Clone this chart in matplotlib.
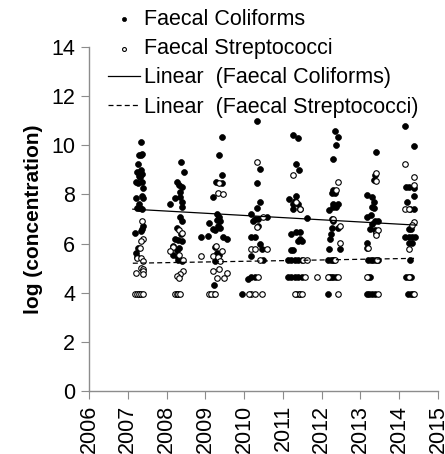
import matplotlib
matplotlib.use("Agg")
import matplotlib.pyplot as plt
import numpy as np

# Faecal coliforms, log concentration by sampling date
fc_dates = [
    2007.34, 2007.28, 2007.34, 2007.37, 2007.26, 2007.24, 2007.33, 2007.36, 2007.29, 2007.31,
    2007.22, 2007.26, 2007.37, 2007.40, 2007.36, 2007.21, 2007.40, 2007.30, 2007.24, 2007.28,
    2007.32, 2007.36, 2007.40, 2007.36, 2007.33, 2007.18, 2007.27, 2007.21, 2007.25, 2007.30,
    2008.37, 2008.45, 2008.26, 2008.32, 2008.39, 2008.35, 2008.09, 2008.22, 2008.35, 2008.39,
    2008.41, 2008.35, 2008.39, 2008.26, 2008.37, 2008.22, 2008.30, 2008.39, 2008.17, 2008.26,
    2008.32, 2008.17, 2008.26, 2008.39, 2008.30, 2008.26,
    2009.44, 2009.35, 2009.44, 2009.27, 2009.42, 2009.19, 2009.31, 2009.36, 2009.37, 2009.29,
    2009.33, 2009.39, 2009.20, 2009.24, 2009.10, 2009.55, 2008.90, 2009.08, 2009.24, 2009.29,
    2009.36, 2009.24, 2009.22, 2009.22, 2009.46,
    2010.32, 2010.41, 2010.32, 2010.41, 2010.32, 2010.19, 2010.28, 2010.36, 2010.58, 2010.23,
    2010.36, 2010.19, 2010.28, 2010.41, 2010.45, 2010.19, 2010.49, 2010.19, 2010.28, 2010.10,
    2009.94,
    2011.27, 2011.39, 2011.35, 2011.41, 2011.16, 2011.31, 2011.35, 2011.27, 2011.39, 2011.44,
    2011.61, 2011.27, 2011.35, 2011.44, 2011.22, 2011.44, 2011.39, 2011.48, 2011.22, 2011.27,
    2011.14, 2011.22, 2011.31, 2011.39, 2011.48, 2011.14, 2011.22, 2011.31, 2011.39, 2011.48,
    2011.35, 2011.41,
    2012.34, 2012.43, 2012.37, 2012.30, 2012.30, 2012.26, 2012.34, 2012.30, 2012.41, 2012.28,
    2012.37, 2012.20, 2012.26, 2012.30, 2012.26, 2012.43, 2012.23, 2012.21, 2012.20, 2012.46,
    2012.17, 2012.23, 2012.28, 2012.32, 2012.19, 2012.25, 2012.30, 2012.36, 2012.17,
    2013.40, 2013.37, 2013.35, 2013.16, 2013.30, 2013.35, 2013.29, 2013.35, 2013.27, 2013.16,
    2013.37, 2013.30, 2013.46, 2013.24, 2013.37, 2013.18, 2013.16, 2013.20, 2013.27, 2013.33,
    2013.39, 2013.44, 2013.20, 2013.24, 2013.16, 2013.22, 2013.30, 2013.37,
    2014.14, 2014.39, 2014.37, 2014.18, 2014.24, 2014.37, 2014.20, 2014.28, 2014.37, 2014.30,
    2014.26, 2014.16, 2014.24, 2014.33, 2014.40, 2014.26, 2014.32, 2014.28, 2014.18, 2014.24,
    2014.31, 2014.22, 2014.30, 2014.36,
]
fc_vals = [
    10.15, 9.60, 9.60, 9.65, 9.25, 8.90, 9.00, 8.85, 8.75, 8.70,
    8.50, 8.45, 8.50, 8.25, 7.95, 7.85, 7.85, 7.60, 7.45, 7.45,
    7.45, 7.40, 6.70, 6.60, 6.50, 6.42, 5.80, 5.60, 5.45, 3.95,
    9.32, 8.90, 8.50, 8.40, 8.30, 8.10, 7.60, 7.85, 7.90, 7.70,
    7.50, 7.10, 6.90, 6.65, 6.40, 6.20, 6.15, 6.10, 5.90, 5.75,
    5.80, 5.55, 5.50, 5.30, 5.35, 3.95,
    10.34, 9.60, 8.78, 8.50, 8.45, 7.90, 7.22, 7.10, 6.90, 6.95,
    6.70, 6.65, 6.60, 6.55, 6.85, 6.20, 6.27, 6.30, 5.85, 5.60,
    5.55, 5.30, 4.30, 3.95, 6.25,
    11.00, 9.05, 8.45, 7.70, 7.45, 7.20, 7.00, 7.00, 7.08, 6.90,
    6.70, 6.27, 6.27, 6.00, 5.77, 5.50, 5.34, 4.65, 4.65, 4.55,
    3.95,
    10.40, 10.30, 9.23, 8.98, 7.80, 7.75, 7.95, 7.60, 7.60, 7.40,
    7.05, 7.40, 6.48, 6.48, 6.40, 6.20, 6.10, 6.10, 5.73, 5.73,
    5.34, 5.34, 5.34, 5.34, 5.34, 4.64, 4.64, 4.64, 4.64, 4.64,
    3.95, 3.95,
    10.60, 10.35, 10.00, 9.43, 8.20, 8.05, 8.05, 7.60, 7.60, 7.50,
    7.50, 7.35, 7.00, 6.90, 6.65, 6.65, 6.40, 6.20, 5.77, 5.77,
    5.34, 5.34, 5.34, 5.34, 4.64, 4.64, 4.64, 4.64, 3.95,
    9.73, 8.78, 8.60, 7.97, 7.90, 7.70, 7.50, 7.45, 7.15, 7.10,
    6.90, 6.80, 6.90, 6.60, 6.55, 6.03, 5.80, 5.34, 5.34, 5.34,
    5.34, 5.34, 4.64, 4.64, 3.95, 3.95, 3.95, 3.95,
    10.77, 9.97, 8.25, 8.30, 8.30, 7.95, 7.70, 7.40, 7.40, 6.60,
    6.60, 6.27, 6.27, 6.27, 6.27, 6.03, 6.03, 5.34, 4.64, 4.64,
    4.64, 3.95, 3.95, 3.95,
]

# Faecal streptococci
fs_dates = [
    2007.36, 2007.40, 2007.34, 2007.31, 2007.25, 2007.34, 2007.40, 2007.33, 2007.38, 2007.21,
    2007.40, 2007.40, 2007.18, 2007.23, 2007.28, 2007.33, 2007.38,
    2008.32, 2008.41, 2008.17, 2008.09, 2008.43, 2008.32, 2008.43, 2008.35, 2008.28, 2008.32,
    2008.22, 2008.26, 2008.30, 2008.35,
    2009.36, 2009.33, 2009.46, 2008.90, 2009.27, 2009.42, 2009.20, 2009.33, 2009.39, 2009.19,
    2009.36, 2009.55, 2009.29, 2009.48, 2009.10, 2009.15, 2009.24,
    2010.32, 2010.49, 2010.32, 2010.19, 2010.28, 2010.58, 2010.41, 2010.36, 2010.19, 2010.28,
    2010.45, 2010.12,
    2011.25, 2011.35, 2011.44, 2011.52, 2011.61, 2011.57, 2011.87, 2011.31, 2011.44, 2011.50,
    2012.43, 2012.37, 2012.30, 2012.46, 2012.48, 2012.34, 2012.17, 2012.43, 2012.41,
    2013.41, 2013.39, 2013.41, 2013.44, 2013.39, 2013.20, 2013.16, 2013.46, 2013.42,
    2014.16, 2014.39, 2014.37, 2014.16, 2014.24, 2014.39, 2014.33, 2014.26, 2014.39, 2014.24,
]
fs_vals = [
    6.90, 6.20, 6.10, 5.80, 5.40, 5.40, 5.30, 5.00, 4.95, 4.80,
    4.90, 4.75, 3.95, 3.95, 3.95, 3.95, 3.95,
    6.55, 6.45, 5.85, 5.70, 5.35, 5.55, 4.90, 4.75, 4.70, 4.60,
    3.95, 3.95, 3.95, 3.95,
    8.45, 8.05, 8.00, 5.50, 5.90, 5.70, 5.50, 5.45, 5.30, 4.90,
    4.95, 4.80, 4.60, 4.60, 3.95, 3.95, 3.95,
    9.30, 7.10, 6.68, 5.77, 5.77, 5.77, 5.34, 4.65, 3.95, 3.95,
    3.95, 3.95,
    8.80, 7.70, 7.40, 5.34, 5.34, 4.64, 4.64, 3.95, 3.95, 3.95,
    8.50, 8.20, 7.00, 6.70, 6.03, 5.34, 4.64, 4.64, 3.95,
    8.87, 8.55, 6.45, 6.55, 6.35, 5.80, 4.64, 3.95, 5.34,
    9.23, 8.70, 8.40, 7.40, 7.40, 6.87, 6.75, 5.77, 3.95, 4.64,
]

# linear trend lines (end points)
trend_dates = [2007.13, 2014.45]
fc_trend = [7.40, 6.75]
fs_trend = [5.20, 5.40]

years = list(range(2006, 2016))

plt.rcParams['font.family'] = ['Liberation Sans', 'DejaVu Sans']

fig = plt.figure(figsize=(4.45, 4.54), dpi=100)
ax = fig.add_axes([89 / 445, 1 - 391 / 454, 349 / 445, 344 / 454])

ax.scatter(fc_dates, fc_vals, s=18, c='black', edgecolors='black', linewidths=0.5,
           label='Faecal Coliforms', zorder=3)
ax.scatter(fs_dates, fs_vals, s=16, c='white', edgecolors='black', linewidths=0.8,
           label='Faecal Streptococci', zorder=4)
ax.plot(trend_dates, fc_trend, color='black', lw=0.9, label='Linear  (Faecal Coliforms)', zorder=5)
ax.plot(trend_dates, fs_trend, color='black', lw=0.9, ls=(0, (4, 2.5)),
        label='Linear  (Faecal Streptococci)', zorder=5)

ax.set_xlim(2006, 2015)
ax.set_ylim(0, 14)
ax.set_xticks(years)
ax.set_xticklabels([str(y) for y in years], rotation=90, fontsize=15.5)
ax.set_yticks(range(0, 15, 2))
ax.tick_params(axis='y', labelsize=15.5, length=6, color='#8c8c8c', pad=4)
ax.tick_params(axis='x', length=6, color='#8c8c8c', pad=4)
for side in ['top', 'right']:
    ax.spines[side].set_visible(False)
for side in ['left', 'bottom']:
    ax.spines[side].set_color('#8c8c8c')
    ax.spines[side].set_linewidth(1.0)

ax.set_ylabel('log (concentration)', fontsize=15, fontweight='bold', labelpad=6)

# title sits mostly above the top edge, only its descenders show
fig.text(12 / 445, 1 + 6 / 454, '(a) Seasonality across the study', fontsize=16,
         fontweight='bold', va='baseline', ha='left')

fig.legend(loc='upper left', bbox_to_anchor=(108 / 445, 1 - 9 / 454), frameon=False,
           fontsize=15.5, handlelength=1.5, handletextpad=0.15, labelspacing=0.38,
           borderpad=0, borderaxespad=0, scatterpoints=1, markerscale=0.7)

fig.savefig('out.png', dpi=100)
